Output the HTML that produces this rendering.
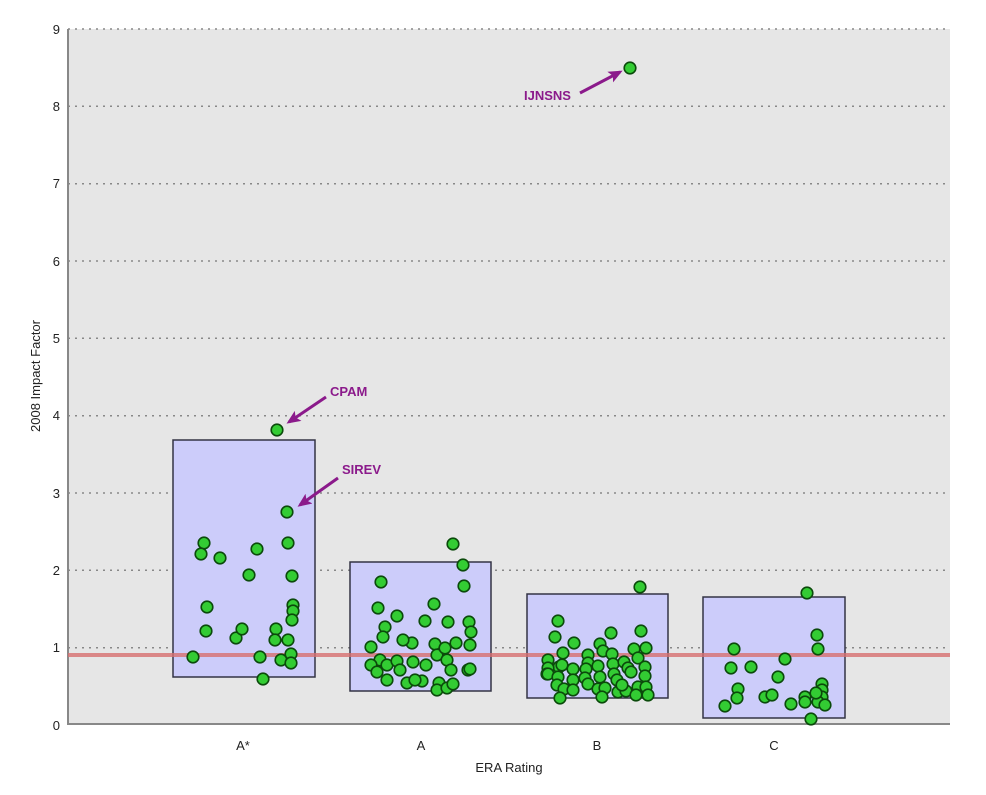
<!DOCTYPE html><html><head><style>body{margin:0;background:#fff}svg{display:block}text{font-family:"Liberation Sans",sans-serif}</style></head><body>
<svg width="986" height="795" viewBox="0 0 986 795">
<defs><marker id="ah" markerWidth="14" markerHeight="12" refX="11" refY="6" orient="auto" markerUnits="userSpaceOnUse"><path d="M0,0 L14,6 L0,12 L3,6z" fill="#8b1a8b"/></marker></defs>
<rect x="68" y="29" width="882" height="696" fill="#e6e6e6"/>
<g stroke="#888" stroke-width="1.5" stroke-dasharray="2,5">
<line x1="68" y1="29" x2="950" y2="29"/><line x1="68" y1="106.3" x2="950" y2="106.3"/><line x1="68" y1="183.7" x2="950" y2="183.7"/><line x1="68" y1="261" x2="950" y2="261"/><line x1="68" y1="338.3" x2="950" y2="338.3"/><line x1="68" y1="415.7" x2="950" y2="415.7"/><line x1="68" y1="493" x2="950" y2="493"/><line x1="68" y1="570.3" x2="950" y2="570.3"/><line x1="68" y1="647.7" x2="950" y2="647.7"/></g>
<line x1="68" y1="29" x2="68" y2="725" stroke="#888" stroke-width="2"/>
<line x1="68" y1="724" x2="950" y2="724" stroke="#888" stroke-width="2"/>
<g fill="#ccccfa" stroke="#334" stroke-width="1.5">
<rect x="173" y="440" width="142" height="237"/><rect x="350" y="562" width="141" height="129"/><rect x="527" y="594" width="141" height="104"/><rect x="703" y="597" width="142" height="121"/></g>
<line x1="68" y1="655" x2="950" y2="655" stroke="#d87070" stroke-width="4" opacity="0.8"/>
<g font-size="13" fill="#222" text-anchor="end">
<text x="60" y="34">9</text><text x="60" y="111">8</text><text x="60" y="188">7</text><text x="60" y="266">6</text><text x="60" y="343">5</text><text x="60" y="420">4</text><text x="60" y="498">3</text><text x="60" y="575">2</text><text x="60" y="652">1</text><text x="60" y="730">0</text></g>
<g font-size="13" fill="#222" text-anchor="middle">
<text x="243" y="750">A*</text><text x="421" y="750">A</text><text x="597" y="750">B</text><text x="774" y="750">C</text>
<text x="509" y="772">ERA Rating</text>
<text transform="translate(40,376) rotate(-90)">2008 Impact Factor</text></g>
<g fill="#8b1a8b" font-size="13" font-weight="bold">
<text x="524" y="100">IJNSNS</text><text x="330" y="396">CPAM</text><text x="342" y="474">SIREV</text></g>
<g stroke="#8b1a8b" stroke-width="3" marker-end="url(#ah)">
<line x1="580" y1="93" x2="620" y2="72"/><line x1="326" y1="397" x2="289" y2="422"/><line x1="338" y1="478" x2="300" y2="505"/></g>
<g fill="#33cc33" stroke="#0b4a0b" stroke-width="1.6" id="d"></g>
</svg>
<script>
var p=[[630,68],[277,430],[287,512],[204,543],[201,554],[220,558],[257,549],[288,543],[249,575],[292,576],[207,607],[293,605],[293,611],[292,620],[206,631],[236,638],[242,629],[276,629],[275,640],[288,640],[193,657],[260,657],[281,660],[291,654],[291,663],[263,679],
[453,544],[463,565],[464,586],[381,582],[378,608],[397,616],[434,604],[425,621],[385,627],[383,637],[412,643],[403,640],[448,622],[469,622],[471,632],[470,645],[371,647],[435,644],[456,643],[380,660],[371,665],[387,665],[397,661],[413,662],[437,655],[445,648],[447,660],[426,665],[377,672],[400,670],[407,683],[422,681],[451,670],[468,670],[387,680],[415,680],[439,683],[437,690],[447,688],[453,684],[470,669],
[640,587],[558,621],[555,637],[574,643],[611,633],[641,631],[600,644],[603,651],[563,653],[559,667],[588,655],[588,663],[634,649],[646,648],[612,654],[638,658],[548,660],[548,668],[547,674],[562,665],[573,669],[586,669],[598,666],[613,664],[624,662],[628,668],[614,674],[548,674],[558,677],[573,680],[585,678],[600,677],[617,680],[631,672],[645,667],[645,676],[557,685],[564,689],[573,690],[588,684],[598,689],[605,688],[618,692],[626,691],[638,687],[646,687],[560,698],[602,697],[636,695],[648,695],[622,685],
[807,593],[817,635],[818,649],[734,649],[731,668],[751,667],[785,659],[778,677],[738,689],[737,698],[725,706],[765,697],[772,695],[791,704],[805,697],[805,702],[822,684],[822,690],[822,697],[818,702],[825,705],[811,719],[816,693]];
var g=document.getElementById('d'),s='';p.forEach(function(q){s+='<circle cx="'+q[0]+'" cy="'+q[1]+'" r="5.8"/>'});g.innerHTML=s;
</script>
</body></html>
